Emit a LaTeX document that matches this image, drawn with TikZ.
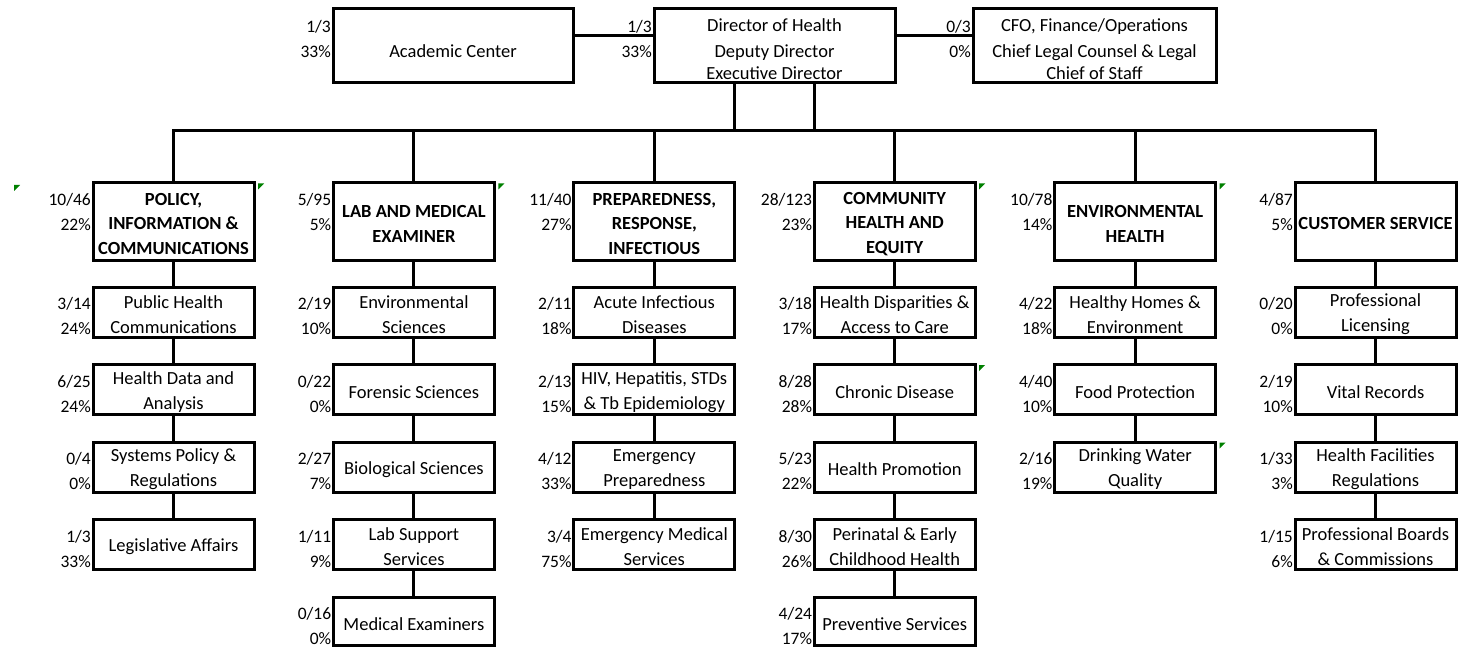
\documentclass[tikz,border=0pt]{standalone}
\usepackage{fontspec}
\setmainfont{Carlito}
\begin{document}
\begin{tikzpicture}[x=1pt,y=-1pt,
  every node/.style={font=\fontsize{18.5}{25}\selectfont},
  unitbox/.style={draw, line width=3pt, minimum width=161pt, inner sep=0pt,
    line join=miter},
  boxtext/.style={inner sep=0pt, align=center, font=\fontsize{18.5}{25}\selectfont},
  headtext/.style={boxtext, font=\fontsize{18.5}{24.5}\selectfont\bfseries},
  subtext/.style={boxtext},
  toptext/.style={inner sep=0pt, align=center, font=\fontsize{18.5}{22}\selectfont},
  num/.style={anchor=east, inner sep=0pt, align=right, font=\fontsize{17.5}{22}\selectfont},
  link/.style={line width=3pt},
  flag/.style={fill=green!50!black}]
\useasboundingbox (0,0) rectangle (1458,647);

% #1 name, #2 text style, #3 left x, #4 top y, #5 height, #6 text, #7 count, #8 share
\newcommand\orgunit[8]{%
  \node[unitbox, minimum height=#5pt] (#1) at ({#3+80.5},{#4+#5/2}) {};
  \node[#2] (#1-t) at ({#3+80.5},{#4+#5/2+2.5}) {#6};
  \node[num] (#1-n) at ({#3-2},{#4+17}) {#7};
  \node[num] (#1-p) at ({#3-2},{#4+42}) {#8};
}

% top row
\node[unitbox, minimum width=240pt, minimum height=74pt] (acad) at (453,46) {};
\node[toptext] (acad-t) at (453,51) {Academic Center};
\node[num] (acad-n) at (331,27) {1/3};
\node[num] (acad-p) at (331,52) {33\%};

\node[unitbox, minimum width=241pt, minimum height=74pt] (dir) at (774.5,46) {};
\node[toptext] (dir-t) at (774.5,49.5)
  {Director of Health\\[4pt]Deputy Director\\Executive Director};
\node[num] (dir-n) at (652,27) {1/3};
\node[num] (dir-p) at (652,52) {33\%};

\node[unitbox, minimum width=243pt, minimum height=74pt] (cfo) at (1094.5,46) {};
\node[toptext] (cfo-t) at (1094.5,49.5)
  {CFO, Finance/Operations\\[4pt]Chief Legal Counsel \& Legal\\Chief of Staff};
\node[num] (cfo-n) at (971,27) {0/3};
\node[num] (cfo-p) at (971,52) {0\%};

\draw[link] (acad.east |- 0,36) -- (dir.west |- 0,36);
\draw[link] (dir.east |- 0,36) -- (cfo.west |- 0,36);

% divisions
\orgunit{h1}{headtext}{93}{183}{77}{POLICY,\\INFORMATION \&\\COMMUNICATIONS}{10/46}{22\%}
\orgunit{h2}{headtext}{333.4}{183}{77}{LAB AND MEDICAL\\EXAMINER}{5/95}{5\%}
\orgunit{h3}{headtext}{573.8}{183}{77}{PREPAREDNESS,\\RESPONSE,\\INFECTIOUS}{11/40}{27\%}
\orgunit{h4}{headtext}{814.2}{183}{77}{COMMUNITY\\HEALTH AND\\EQUITY}{28/123}{23\%}
\orgunit{h5}{headtext}{1054.6}{183}{77}{ENVIRONMENTAL\\HEALTH}{10/78}{14\%}
\orgunit{h6}{headtext}{1295}{183}{77}{CUSTOMER SERVICE}{4/87}{5\%}

% column 1
\orgunit{a1}{subtext}{93}{287}{50}{Public Health\\Communications}{3/14}{24\%}
\orgunit{a2}{subtext}{93}{364.5}{50}{Health Data and\\Analysis}{6/25}{24\%}
\orgunit{a3}{subtext}{93}{442}{50}{Systems Policy \&\\Regulations}{0/4}{0\%}
\orgunit{a4}{subtext}{93}{519.5}{50}{Legislative Affairs}{1/3}{33\%}

% column 2
\orgunit{b1}{subtext}{333.4}{287}{50}{Environmental\\Sciences}{2/19}{10\%}
\orgunit{b2}{subtext}{333.4}{364.5}{50}{Forensic Sciences}{0/22}{0\%}
\orgunit{b3}{subtext}{333.4}{442}{50}{Biological Sciences}{2/27}{7\%}
\orgunit{b4}{subtext}{333.4}{519.5}{50}{Lab Support\\Services}{1/11}{9\%}
\orgunit{b5}{subtext}{333.4}{597}{48.5}{Medical Examiners}{0/16}{0\%}

% column 3
\orgunit{c1}{subtext}{573.8}{287}{50}{Acute Infectious\\Diseases}{2/11}{18\%}
\orgunit{c2}{subtext}{573.8}{364.5}{50}{HIV, Hepatitis, STDs\\\& Tb Epidemiology}{2/13}{15\%}
\orgunit{c3}{subtext}{573.8}{442}{50}{Emergency\\Preparedness}{4/12}{33\%}
\orgunit{c4}{subtext}{573.8}{519.5}{50}{Emergency Medical\\Services}{3/4}{75\%}

% column 4
\orgunit{d1}{subtext}{814.2}{287}{50}{Health Disparities \&\\Access to Care}{3/18}{17\%}
\orgunit{d2}{subtext}{814.2}{364.5}{50}{Chronic Disease}{8/28}{28\%}
\orgunit{d3}{subtext}{814.2}{442}{50}{Health Promotion}{5/23}{22\%}
\orgunit{d4}{subtext}{814.2}{519.5}{50}{Perinatal \& Early\\Childhood Health}{8/30}{26\%}
\orgunit{d5}{subtext}{814.2}{597}{48.5}{Preventive Services}{4/24}{17\%}

% column 5
\orgunit{e1}{subtext}{1054.6}{287}{50}{Healthy Homes \&\\Environment}{4/22}{18\%}
\orgunit{e2}{subtext}{1054.6}{364.5}{50}{Food Protection}{4/40}{10\%}
\orgunit{e3}{subtext}{1054.6}{442}{50}{Drinking Water\\Quality}{2/16}{19\%}

% column 6
\orgunit{f1}{subtext}{1295}{287}{50}{Professional\\Licensing}{0/20}{0\%}
\orgunit{f2}{subtext}{1295}{364.5}{50}{Vital Records}{2/19}{10\%}
\orgunit{f3}{subtext}{1295}{442}{50}{Health Facilities\\Regulations}{1/33}{3\%}
\orgunit{f4}{subtext}{1295}{519.5}{50}{Professional Boards\\\& Commissions}{1/15}{6\%}

% bus from the director to the divisions
\coordinate (bus) at (0,131);
\draw[link] ([xshift=-40.5pt]dir.south) -- ([xshift=-40.5pt]dir.south |- bus);
\draw[link] ([xshift=39.5pt]dir.south) -- ([xshift=39.5pt]dir.south |- bus);
\draw[link] ([xshift=-1.5pt]h1.north |- bus) -- ([xshift=1.5pt]h6.north |- bus);
\foreach \h in {h1,h2,h3,h4,h5,h6} {
  \draw[link] (\h.north |- bus) -- (\h.north);
}

% chains inside the columns
\draw[link] (h1) -- (a1) -- (a2) -- (a3) -- (a4);
\draw[link] (h2) -- (b1) -- (b2) -- (b3) -- (b4) -- (b5);
\draw[link] (h3) -- (c1) -- (c2) -- (c3) -- (c4);
\draw[link] (h4) -- (d1) -- (d2) -- (d3) -- (d4) -- (d5);
\draw[link] (h5) -- (e1) -- (e2) -- (e3);
\draw[link] (h6) -- (f1) -- (f2) -- (f3) -- (f4);

% comment markers
\coordinate (mark0) at (14,185);
\fill[flag] (mark0) -- ++(6,0) -- ++(-6,6) -- cycle;
\foreach \b in {h1,h2,h4,h5,d2,e3} {
  \fill[flag] ([shift={(2.5,2)}]\b.north east) -- ++(6,0) -- ++(-6,6) -- cycle;
}
\end{tikzpicture}
\end{document}
